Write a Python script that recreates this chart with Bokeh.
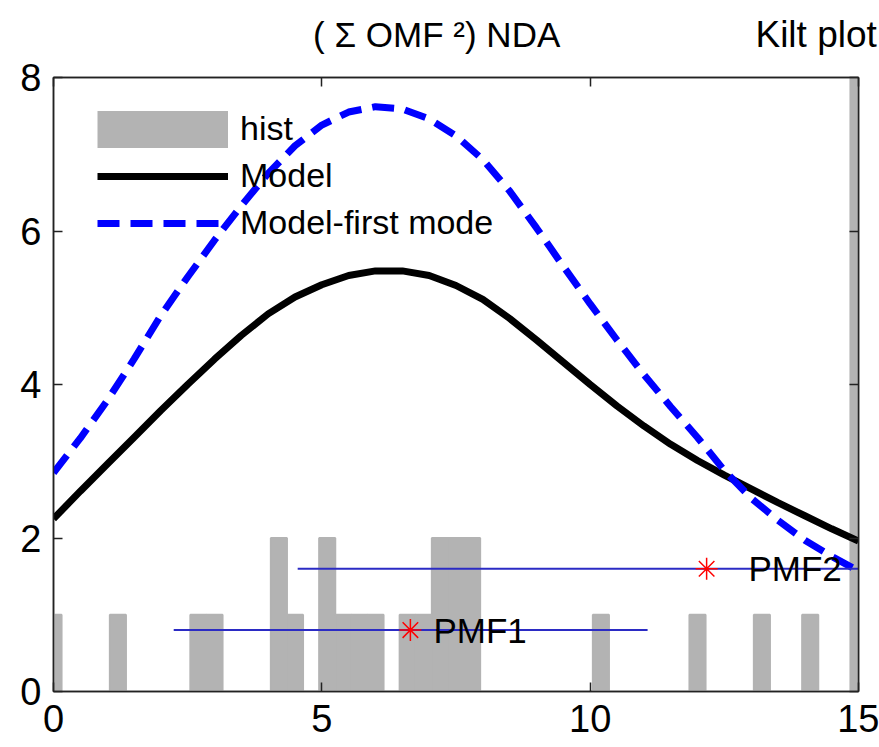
from bokeh.plotting import figure
from bokeh.layouts import column
from bokeh.models import (Range1d, LinearAxis, FixedTicker, Legend,
                          LegendItem, CustomJSTickFormatter)
from bokeh.core.properties import value
from bokeh.embed import file_html
from bokeh.resources import INLINE

FONT = "Liberation Sans"

# ---------------- data ----------------
x_ticks = [0, 5, 10, 15]
y_ticks = [0, 2, 4, 6, 8]

hist_centers = [0.0, 1.2, 2.7, 3.0, 4.2, 4.5, 5.1, 5.4, 5.7, 6.0,
                6.6, 6.9, 7.2, 7.5, 7.8, 10.2, 12.0, 13.2, 14.1, 15.0]
hist_counts = [1, 1, 1, 1, 2, 1, 2, 1, 1, 1,
               1, 1, 2, 2, 2, 1, 1, 1, 1, 10]
bin_width = 0.3

model_x = [0, 0.5, 1, 1.5, 2, 2.5, 3, 3.5, 4, 4.5, 5, 5.5, 6, 6.5, 7, 7.5,
           8, 8.5, 9, 9.5, 10, 10.5, 11, 11.5, 12, 12.5, 13, 13.5, 14, 14.5, 15]
model_y = [2.25, 2.61, 2.96, 3.31, 3.66, 4.00, 4.33, 4.64, 4.92, 5.14, 5.30,
           5.42, 5.48, 5.48, 5.42, 5.29, 5.11, 4.86, 4.58, 4.29, 4.00, 3.72,
           3.46, 3.22, 3.01, 2.82, 2.64, 2.46, 2.29, 2.12, 1.96]
first_mode_y = [2.85, 3.30, 3.79, 4.33, 4.90, 5.40, 5.88, 6.33, 6.75, 7.11,
                7.38, 7.55, 7.62, 7.59, 7.46, 7.24, 6.93, 6.52, 6.04, 5.54,
                5.05, 4.58, 4.13, 3.71, 3.31, 2.88, 2.52, 2.23, 1.97, 1.76, 1.57]

pmf_names = ["PMF1", "PMF2"]
pmf_x = [6.65, 12.17]
pmf_y = [0.8, 1.6]
pmf_lo = [2.24, 4.55]
pmf_hi = [11.07, 15.0]
pmf_label_x = [7.08, 12.95]

title_text = ["( \u03a3 OMF \u00b2) NDA"]
title_x = [7.14]
title_y = [8.56]
corner_text = ["Kilt plot"]
corner_x = [13.08]
corner_y = [8.56]

X_RANGE = (0, 15)
Y_RANGE = (0, 8)

# ---------------- layout geometry (pixels) ----------------
W = 879
HEADER_H = 55
MAIN_H = 747 - HEADER_H
B_LEFT, B_RIGHT, B_BOTTOM = 53, 21, 56
B_TOP = 77 - HEADER_H
px_per_x = (W - B_LEFT - B_RIGHT) / (X_RANGE[1] - X_RANGE[0])
px_per_y = (MAIN_H - B_TOP - B_BOTTOM) / (Y_RANGE[1] - Y_RANGE[0])

# ---------------- header strip (titles above the axes box) ----------------
# uses the same data scale as the main plot, extended over the strip
header = figure(width=W, height=HEADER_H, title=None,
                x_range=Range1d(X_RANGE[0] - B_LEFT / px_per_x,
                                X_RANGE[1] + B_RIGHT / px_per_x),
                y_range=Range1d(Y_RANGE[1] + B_TOP / px_per_y,
                                Y_RANGE[1] + (B_TOP + HEADER_H) / px_per_y),
                output_backend="svg", toolbar_location=None,
                x_axis_location=None, y_axis_location=None,
                min_border_left=0, min_border_right=0, min_border_top=0,
                min_border_bottom=0, outline_line_color=None,
                background_fill_color="white", border_fill_color="white")
header.frame_align = False
header.grid.visible = False
header.text(x=title_x, y=title_y, text=title_text, text_font=value(FONT),
            text_font_size="35px", text_align="center",
            text_baseline="middle", text_color="black")
header.text(x=corner_x, y=corner_y, text=corner_text, text_font=value(FONT),
            text_font_size="37px", text_align="left",
            text_baseline="middle", text_color="black")

# ---------------- main figure ----------------
p = figure(width=W, height=MAIN_H, x_range=Range1d(*X_RANGE), y_range=Range1d(*Y_RANGE),
           output_backend="svg", toolbar_location=None,
           min_border_left=B_LEFT, min_border_right=B_RIGHT, min_border_top=B_TOP,
           min_border_bottom=B_BOTTOM, background_fill_color="white",
           border_fill_color="white")
p.frame_align = False
p.grid.visible = False
p.outline_line_color = "#222222"
p.outline_line_width = 1.5


def style_axis(ax, ticks):
    ax.ticker = FixedTicker(ticks=ticks)
    ax.axis_line_color = "#222222"
    ax.axis_line_width = 1.5
    ax.major_tick_in = 9
    ax.major_tick_out = 0
    ax.major_tick_line_color = "#222222"
    ax.major_tick_line_width = 1.5
    ax.minor_tick_line_color = None
    ax.major_label_text_font = FONT
    ax.major_label_text_font_size = "38px"
    ax.major_label_text_color = "black"


style_axis(p.xaxis[0], x_ticks)
p.xaxis[0].major_label_standoff = 13
style_axis(p.yaxis[0], y_ticks)
p.yaxis[0].major_label_standoff = 12

top_ax = LinearAxis(formatter=CustomJSTickFormatter(code="return ''"))
style_axis(top_ax, x_ticks)
top_ax.major_label_text_font_size = "1px"
top_ax.major_label_standoff = 0
p.add_layout(top_ax, "above")
right_ax = LinearAxis(formatter=CustomJSTickFormatter(code="return ''"))
style_axis(right_ax, y_ticks)
right_ax.major_label_text_font_size = "1px"
right_ax.major_label_standoff = 0
p.add_layout(right_ax, "right")

# ---------------- glyphs ----------------
hist_r = p.vbar(x=hist_centers, top=hist_counts, bottom=0, width=bin_width,
                fill_color="#b3b3b3", line_color="#b3b3b3", line_width=2)
# one-point line: draws nothing in the plot, gives the legend a full swatch
swatch_r = p.line(x=hist_centers[:1], y=hist_counts[:1], line_color="#b3b3b3",
                  line_width=37, line_cap="butt")

model_r = p.line(model_x, model_y, line_color="black", line_width=7)
first_r = p.line(model_x, first_mode_y, line_color="#0000ff", line_width=7,
                 line_dash="22 11")

p.segment(x0=pmf_lo, y0=pmf_y, x1=pmf_hi, y1=pmf_y, line_color="#2b2bc4",
          line_width=2)
p.scatter(pmf_x, pmf_y, marker="asterisk", size=22, line_color="#ff0000",
          line_width=1.5)
p.text(x=pmf_label_x, y=pmf_y, text=pmf_names, text_font=value(FONT),
       text_font_size="35px", text_baseline="middle", text_align="left",
       text_color="black")

# ---------------- legend ----------------
legend = Legend(items=[LegendItem(label="hist", renderers=[hist_r, swatch_r]),
                       LegendItem(label="Model", renderers=[model_r]),
                       LegendItem(label="Model-first mode", renderers=[first_r])],
                location=(44, 449), glyph_width=131, glyph_height=38, spacing=8,
                padding=0, margin=0, label_standoff=12, label_text_font=FONT,
                label_text_font_size="34px", label_text_color="black",
                border_line_color=None, background_fill_alpha=0)
p.add_layout(legend)

layout = column(header, p, spacing=0)
open("out.html", "w").write(file_html(layout, INLINE))
